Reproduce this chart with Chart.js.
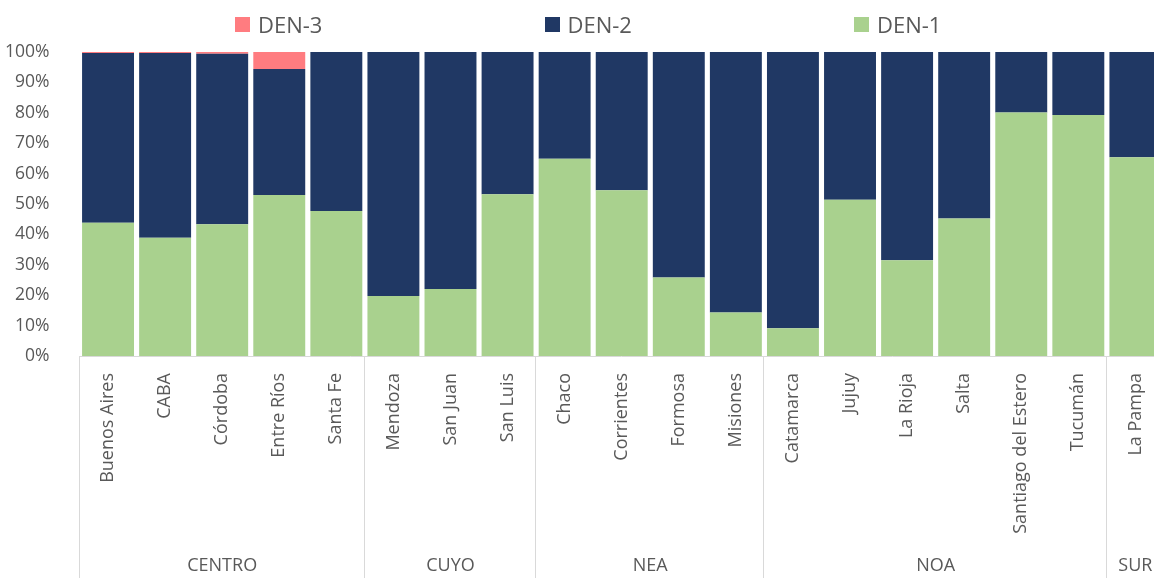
<!DOCTYPE html>
<html>
<head>
<meta charset="utf-8">
<script src="https://cdn.jsdelivr.net/npm/chart.js@4.4.1/dist/chart.umd.min.js"></script>
<style>
    html, body { margin: 0; padding: 0; overflow: hidden; background: #fff; }
    #wrap { position: relative; width: 1166px; height: 578px; }
    #legend { position: absolute; top: 9px; left: 235px; display: flex; font-family: 'Open Sans', sans-serif; font-size: 22px; color: #595959; }
    .item { width: 309.5px; display: flex; align-items: center; }
    .box { width: 15px; height: 15px; margin-right: 8px; }
</style>
</head>
<body>
<div id="wrap">
    <div id="legend"></div>
    <canvas id="den-chart" width="1166" height="578"></canvas>
</div>
<script>
const provinces = ['Buenos Aires', 'CABA', 'Córdoba', 'Entre Ríos', 'Santa Fe',
    'Mendoza', 'San Juan', 'San Luis',
    'Chaco', 'Corrientes', 'Formosa', 'Misiones',
    'Catamarca', 'Jujuy', 'La Rioja', 'Salta', 'Santiago del Estero', 'Tucumán',
    'La Pampa'];

const regions = ['CENTRO', 'CUYO', 'NEA', 'NOA', 'SUR'];
const regionSizes = [5, 3, 4, 6, 1];

// percentages
const den1 = [43.8, 38.9, 43.3, 53.0, 47.7, 19.7, 22.0, 53.2, 64.9, 54.5, 25.8, 14.3, 9.1, 51.4, 31.5, 45.2, 80.1, 79.3, 65.4];
const den2 = [55.9, 60.8, 56.1, 41.4, 52.3, 80.3, 78.0, 46.8, 35.1, 45.5, 74.2, 85.7, 90.9, 48.6, 68.5, 54.8, 19.9, 20.7, 34.6];
const den3 = [0.3, 0.3, 0.6, 5.6, 0, 0, 0, 0, 0, 0, 0, 0, 0, 0, 0, 0, 0, 0, 0];

const yTicks = [0, 10, 20, 30, 40, 50, 60, 70, 80, 90, 100];

const COLORS = { den1: '#A9D18E', den2: '#203864', den3: '#FF7C80' };
const FONT = "'Open Sans', sans-serif";
const TEXT = '#595959';
const LINE = '#D9D9D9';

// legend, same order as the reference
const legendItems = [['DEN-3', COLORS.den3], ['DEN-2', COLORS.den2], ['DEN-1', COLORS.den1]];
const legend = document.getElementById('legend');
legendItems.forEach(([name, color]) => {
    let item = document.createElement('div');
    item.className = 'item';
    item.innerHTML = `<span class="box" style="background:${color}"></span><span>${name}</span>`;
    legend.appendChild(item);
});

// region row under the province labels
const regionAxis = {
    id: 'regionAxis',
    afterDraw(chart) {
        const ctx = chart.ctx;
        const x = chart.scales.x;
        const half = (x.getPixelForValue(1) - x.getPixelForValue(0)) / 2;
        const bottom = chart.height;

        ctx.save();
        ctx.strokeStyle = LINE;
        ctx.lineWidth = 1;
        ctx.fillStyle = TEXT;
        ctx.font = `18px ${FONT}`;
        ctx.textAlign = 'center';
        ctx.textBaseline = 'middle';

        let start = 0;
        for (let i = 0; i <= regions.length; i++) {
            let edge = x.getPixelForValue(start) - half;
            ctx.beginPath();
            ctx.moveTo(Math.round(edge) - 0.5, x.top);
            ctx.lineTo(Math.round(edge) - 0.5, bottom);
            ctx.stroke();
            if (i == regions.length) break;

            let end = start + regionSizes[i] - 1;
            let mid = (x.getPixelForValue(start) + x.getPixelForValue(end)) / 2;
            ctx.fillText(regions[i], mid, 566);
            start += regionSizes[i];
        }
        ctx.restore();
    }
};

new Chart(document.getElementById('den-chart'), {
    type: 'bar',
    data: {
        labels: provinces,
        datasets: [
            { label: 'DEN-1', data: den1, backgroundColor: COLORS.den1 },
            { label: 'DEN-2', data: den2, backgroundColor: COLORS.den2 },
            { label: 'DEN-3', data: den3, backgroundColor: COLORS.den3 }
        ]
    },
    options: {
        responsive: false,
        animation: false,
        layout: { padding: { top: 52, left: 0, right: 0, bottom: 0 } },
        datasets: {
            bar: { categoryPercentage: 1, barPercentage: 0.91, borderWidth: 0 }
        },
        plugins: {
            legend: { display: false },
            tooltip: { enabled: false }
        },
        scales: {
            x: {
                stacked: true,
                grid: { display: false },
                border: { color: LINE, width: 1 },
                ticks: {
                    autoSkip: false,
                    minRotation: 90,
                    maxRotation: 90,
                    padding: 9,
                    color: TEXT,
                    font: { family: FONT, size: 18 }
                },
                afterFit(scale) { scale.height = 222; }
            },
            y: {
                stacked: true,
                min: 0,
                max: 100,
                grid: { display: false },
                border: { display: false },
                afterBuildTicks(scale) { scale.ticks = yTicks.map(v => ({ value: v })); },
                ticks: {
                    padding: 22,
                    color: TEXT,
                    font: { family: FONT, size: 17.5 },
                    callback: v => v + '%'
                },
                afterFit(scale) { scale.width = 79.5; }
            }
        }
    },
    plugins: [regionAxis]
});
</script>
</body>
</html>
